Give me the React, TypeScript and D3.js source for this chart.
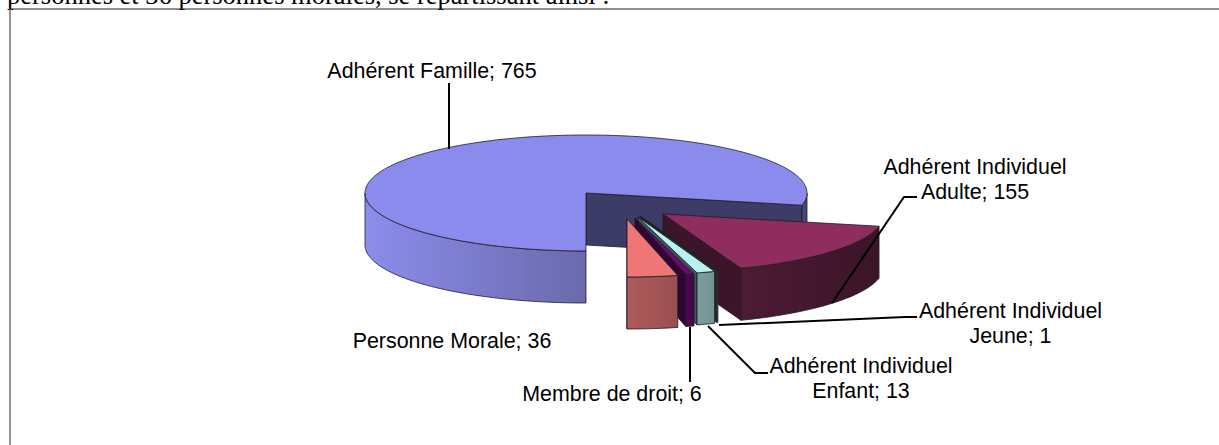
import React from "react";
import * as d3 from "d3";

const categories = ["Adhérent Famille", "Adhérent Individuel Adulte", "Adhérent Individuel Jeune", "Adhérent Individuel Enfant", "Membre de droit", "Personne Morale"];
const values = [765, 155, 1, 13, 6, 36];
const topColors = ["#8b8bee", "#8e2d5e", "#3f3a2a", "#b9f0f0", "#6a0a6e", "#ee7676"];
const wallColors = ["#3d3c66", "#3d1528", "#2c2a1c", "#3a5a5a", "#300534", "#9a4f4f"];
const rimFrom = ["#8c8cec", "#4d1b35", "#5a5840", "#7e9c9c", "#4b0750", "#ae5b5b"];
const rimTo = ["#6a6aac", "#3b1526", "#4a4830", "#749494", "#45064a", "#985050"];
// Pie position of each exploded slice's apex
const apexX = [586, 663, 640, 638, 635, 627];
const apexY = [193, 214, 216, 217, 218, 219];
const labelLines = [
  ["Adhérent Famille; 765"],
  ["Adhérent Individuel", "Adulte; 155"],
  ["Adhérent Individuel", "Jeune; 1"],
  ["Adhérent Individuel", "Enfant; 13"],
  ["Membre de droit; 6"],
  ["Personne Morale; 36"],
];
const labelX = [432, 975, 1010.5, 861, 612, 452];
const labelY = [78, 174, 318, 373, 401, 348];
const leaders = [
  [[449, 149], [449, 83], [449, 83]],
  [[832, 303], [904, 197], [917, 197]],
  [[719, 325], [905, 317], [917, 317]],
  [[708, 326], [755, 373], [768, 373]],
  [[690, 327], [690, 382], [690, 382]],
];

const RX = 221, RY = 58, DEPTH = 52;
const pie = d3.pie<number>().sort(null).startAngle(Math.PI).endAngle(3 * Math.PI);
const arcs = pie(values);
const lineGen = d3.line();
const xr = d3.scaleLinear().domain([-1, 1]).range([-RX, RX]);
const yr = d3.scaleLinear().domain([-1, 1]).range([-RY, RY]);

function pt(i: number, a: number, dy = 0): [number, number] {
  return [apexX[i] + xr(Math.sin(a)), apexY[i] + yr(-Math.cos(a)) + dy];
}
function angs(a0: number, a1: number) {
  const n = Math.max(2, Math.ceil(Math.abs(a1 - a0) / 0.02));
  return d3.range(n + 1).map((k) => a0 + ((a1 - a0) * k) / n);
}
function topPath(i: number) {
  const { startAngle, endAngle } = arcs[i];
  return lineGen([[apexX[i], apexY[i]], ...angs(startAngle, endAngle).map((a) => pt(i, a))]) + "Z";
}
// Outer rim: only the part of the arc that faces the viewer
function rimPaths(i: number) {
  const { startAngle, endAngle } = arcs[i];
  const out: string[] = [];
  const ranges: [number, number][] = [[Math.PI / 2, 3 * Math.PI / 2], [Math.PI / 2 + 2 * Math.PI, 3 * Math.PI / 2 + 2 * Math.PI]];
  ranges.forEach(([lo, hi]) => {
    const a0 = Math.max(lo, startAngle), a1 = Math.min(hi, endAngle);
    if (a1 > a0) {
      const as = angs(a0, a1);
      out.push(lineGen([...as.map((a) => pt(i, a)), ...as.slice().reverse().map((a) => pt(i, a, DEPTH))]) + "Z");
    }
  });
  return out;
}
function wall(i: number, a: number) {
  const p = pt(i, a), c: [number, number] = [apexX[i], apexY[i]];
  return lineGen([c, p, [p[0], p[1] + DEPTH], [c[0], c[1] + DEPTH]]) + "Z";
}
const drawOrder = [0, 1, 2, 3, 4, 5];
const STROKE = "#1c1c2a";

export default function App() {
  return (
    <svg width={1219} height={445} style={{ position: "absolute", left: 0, top: 0, background: "#fff" }}>
      <defs>
        {categories.map((_, i) => (
          <linearGradient key={i} id={`rim${i}`} gradientUnits="objectBoundingBox" x1="0" x2="1" y1="0" y2="0">
            <stop offset="0" stopColor={rimFrom[i]} />
            <stop offset="1" stopColor={rimTo[i]} />
          </linearGradient>
        ))}
      </defs>
      <text x={7} y={4} fontFamily="'Liberation Serif'" fontSize={26.5} fill="#000">personnes et 36 personnes morales, se répartissant ainsi :</text>
      <line x1={9} x2={1219} y1={9} y2={9} stroke="#222" strokeWidth={1} />
      <line x1={10} x2={10} y1={9} y2={445} stroke="#666" strokeWidth={1.4} />
      {drawOrder.map((i) => (
        <g key={i} stroke={STROKE} strokeWidth={0.8} strokeLinejoin="round">
          <path d={wall(i, arcs[i].endAngle)} fill={wallColors[i]} />
          {rimPaths(i).map((d, k) => (
            <path key={k} d={d} fill={i === 0 && k === 1 ? "#46467a" : `url(#rim${i})`} />
          ))}
          <path d={topPath(i)} fill={topColors[i]} />
        </g>
      ))}
      {leaders.map((l, i) => (
        <path key={i} d={lineGen(l as [number, number][]) ?? ""} fill="none" stroke="#000" strokeWidth={2} />
      ))}
      <g fontFamily="'Liberation Sans'" fontSize={21.4} fill="#000" textAnchor="middle">
        {labelLines.map((ls, i) =>
          ls.map((t, k) => (
            <text key={k} x={labelX[i]} y={labelY[i] + k * 24.5}>{t}</text>
          ))
        )}
      </g>
    </svg>
  );
}
